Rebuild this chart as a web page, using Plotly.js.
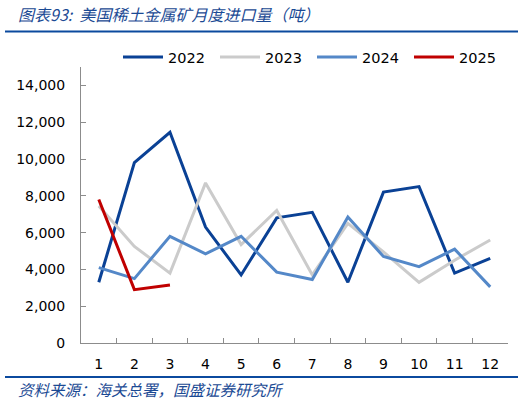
<!DOCTYPE html>
<html>
<head>
<meta charset="utf-8">
<script src="https://cdn.plot.ly/plotly-3.0.1.min.js"></script>
<style>
html,body{margin:0;padding:0;background:#fff;}
#chart{width:525px;height:402px;}
</style>
</head>
<body>
<div id="chart"></div>
<script>
var months = ['1','2','3','4','5','6','7','8','9','10','11','12'];
var y2022 = [3300, 9800, 11450, 6300, 3700, 6800, 7100, 3300, 8200, 8500, 3800, 4600];
var y2023 = [7450, 5250, 3800, 8700, 5350, 7200, 3700, 6500, 4950, 3300, 4500, 5600];
var y2024 = [4100, 3500, 5800, 4850, 5800, 3850, 3450, 6850, 4700, 4150, 5100, 3050];
var y2025 = [7800, 2900, 3150];
var months2025 = ['1','2','3'];
var yTicks = [0, 2000, 4000, 6000, 8000, 10000, 12000, 14000];
var yTickText = ['0','2,000','4,000','6,000','8,000','10,000','12,000','14,000'];

var titleText = '图表93:  美国稀土金属矿月度进口量（吨）';
var sourceText = '资料来源：海关总署，国盛证券研究所';

function tr(name, x, y, color) {
  return {type:'scatter', mode:'lines', name:name, x:x, y:y,
          line:{color:color, width:3}, hoverinfo:'skip'};
}
var data = [
  tr('2022', months, y2022, '#0A4195'),
  tr('2023', months, y2023, '#CBCBCB'),
  tr('2024', months, y2024, '#5488C8'),
  tr('2025', months2025, y2025, '#C00000')
];

var L = 81, R = 17, T = 67, B = 59, W = 525, H = 402;
var pw = W - L - R, ph = H - T - B;
function px(x){ return (x - L) / pw; }
function py(y){ return (H - B - y) / ph; }

var cjk = '"Noto Sans CJK SC", sans-serif';
var layout = {
  width: W, height: H,
  margin: {l:L, r:R, t:T, b:B, pad:0},
  paper_bgcolor:'#fff', plot_bgcolor:'#fff',
  font: {family:'"DejaVu Sans", sans-serif', size:14, color:'#000'},
  showlegend: true,
  legend: {orientation:'h', x: px(118), xanchor:'left', y: py(57), yanchor:'middle',
           font:{size:14.5, color:'#000'}, itemwidth: 40, entrywidth: 42, entrywidthmode:'pixels',
           bgcolor:'rgba(0,0,0,0)', borderwidth:0, tracegroupgap:0},
  xaxis: {type:'category', categoryarray: months, range:[-0.5, 11.5],
          showline:true, linecolor:'#8c8c8c', linewidth:1,
          ticks:'inside', ticklen:5, tickcolor:'#8c8c8c', tickson:'boundaries',
          showgrid:false, zeroline:false, fixedrange:true,
          tickfont:{size:14, color:'#000'}, ticklabelstandoff: 8},
  yaxis: {range:[0, 15000], tickvals: yTicks, ticktext: yTickText,
          showline:true, linecolor:'#8c8c8c', linewidth:1,
          ticks:'inside', ticklen:5, tickcolor:'#8c8c8c',
          showgrid:false, zeroline:false, fixedrange:true,
          tickfont:{size:14, color:'#000'}, ticklabelstandoff: 12},
  shapes: [
    {type:'line', xref:'paper', yref:'paper', x0:px(5), x1:px(518), y0:py(31.5), y1:py(31.5),
     line:{color:'#0B4A9E', width:2.2}},
    {type:'line', xref:'paper', yref:'paper', x0:px(5), x1:px(518), y0:py(377), y1:py(377),
     line:{color:'#0B4A9E', width:2}}
  ],
  annotations: [
    {xref:'paper', yref:'paper', x:px(16), y:py(14), xanchor:'left', yanchor:'middle',
     text:'<i>'+titleText+'</i>', showarrow:false,
     font:{family:cjk, size:16, color:'#1B4A94'}},
    {xref:'paper', yref:'paper', x:px(16), y:py(389), xanchor:'left', yanchor:'middle',
     text:'<i>'+sourceText+'</i>', showarrow:false,
     font:{family:cjk, size:15.5, color:'#1B4A94'}}
  ]
};
Plotly.newPlot('chart', data, layout, {displayModeBar:false, staticPlot:true});
</script>
</body>
</html>
